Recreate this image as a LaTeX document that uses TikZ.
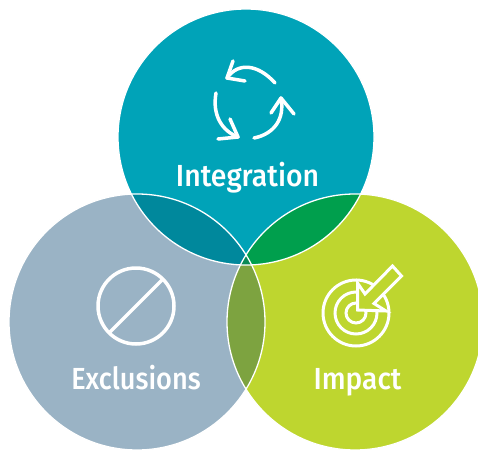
\documentclass[tikz,border=0pt]{standalone}
\usepackage{fontspec}
\setmainfont{Fira Sans}[BoldFont={Fira Sans Medium}]
\definecolor{cTop}{HTML}{00A3B8}
\definecolor{cLeft}{HTML}{9AB3C5}
\definecolor{cRight}{HTML}{BED62F}
\definecolor{cTL}{HTML}{00889C}
\definecolor{cTR}{HTML}{009F4D}
\definecolor{cLR}{HTML}{7DA340}
\definecolor{cAll}{HTML}{0B8A55}
\tikzset{
  icon/.style={draw=white,line width=3.5pt,line cap=round,line join=round},
  tiny/.style={draw=white,line width=3pt,line join=miter},
  edge/.style={draw=white,line width=1.3pt},
  lbl/.style={text=white,font=\fontsize{30.5}{30}\selectfont\bfseries,inner sep=0pt,anchor=base,transform shape}
}
\begin{document}
\begin{tikzpicture}[x=1pt,y=-1pt]
\useasboundingbox (0,0) rectangle (478,449);
\clip (0,0) rectangle (478,449);
\def\R{128}
\coordinate (T) at (246,137);
\coordinate (L) at (137,322);
\coordinate (Q) at (355,322);
\fill[cLeft] (L) circle (\R);
\fill[cRight] (Q) circle (\R);
\fill[cTop] (T) circle (\R);
\begin{scope}\clip (T) circle (\R); \fill[cTL] (L) circle (\R); \end{scope}
\begin{scope}\clip (T) circle (\R); \fill[cTR] (Q) circle (\R); \end{scope}
\begin{scope}\clip (L) circle (\R); \fill[cLR] (Q) circle (\R); \end{scope}
\begin{scope}\clip (L) circle (\R); \clip (T) circle (\R); \fill[cAll] (Q) circle (\R); \end{scope}
\draw[edge] (T) circle (\R);
\draw[edge] (L) circle (\R);
\draw[edge] (Q) circle (\R);
% cycle icon
\draw[icon] (275,83) .. controls (258,64) and (238,62) .. (227,78);
\draw[icon] (233,61) -- (227,78) -- (245,81);
\draw[icon] (216,93) .. controls (212,115) and (222,131) .. (238,137);
\draw[icon] (230,119) -- (238,137) -- (218,139);
\draw[icon] (254,138) .. controls (274,134) and (285,119) .. (281,98);
\draw[icon] (271,113) -- (281,98) -- (294,114);
% exclusion icon
\draw[icon,line cap=butt] (136,306) circle (38);
\draw[icon,line cap=butt] (109,333) -- (163,279);
% target icon
\draw[tiny] (356,313) circle (33);
\draw[tiny] (356,313) circle (21);
\draw[tiny] (356,313) circle (10);
\filldraw[tiny,fill=cRight] (357.5,310) -- (357.5,283) -- (365,294) -- (392.5,266) -- (401.5,276) -- (374,303.5) -- (386,311) -- cycle;
% labels
\node[lbl,xscale=.93] (nInt) at (247.5,186) {Integration};
\node[lbl,xscale=.89] (nExc) at (136,389) {Exclusions};
\node[lbl,xscale=.92] (nImp) at (357.5,389) {Impact};
\end{tikzpicture}
\end{document}
